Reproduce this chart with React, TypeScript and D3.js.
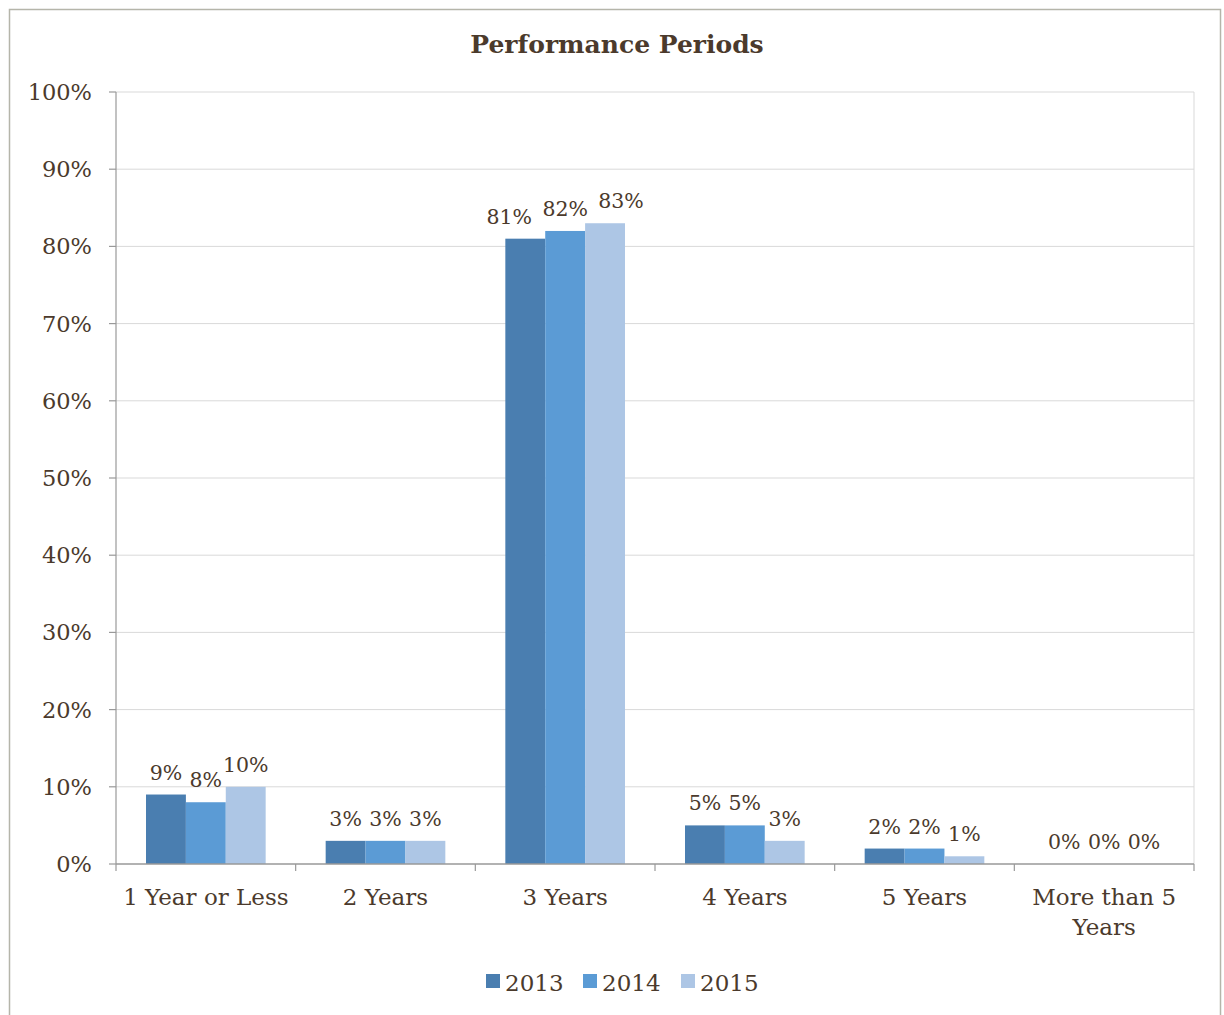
import React from "react";
import * as d3 from "d3";

const categories = ["1 Year or Less", "2 Years", "3 Years", "4 Years", "5 Years", "More than 5 Years"];
const categoryLines = [["1 Year or Less"], ["2 Years"], ["3 Years"], ["4 Years"], ["5 Years"], ["More than 5", "Years"]];
const seriesNames = ["2013", "2014", "2015"];
const values2013 = [9, 3, 81, 5, 2, 0];
const values2014 = [8, 3, 82, 5, 2, 0];
const values2015 = [10, 3, 83, 3, 1, 0];
const seriesColors = ["#4a7eb0", "#5b9bd5", "#adc6e5"];
const yTicks = [0, 10, 20, 30, 40, 50, 60, 70, 80, 90, 100];

const W = 1224;
const H = 1015;
const FONT = "'DejaVu Serif', Georgia, serif";
const TEXT = "#4b3a2c";
const LABEL_SIZE = 20.5;

export default function App() {
  const left = 116, right = 1194, top = 92, bottom = 864;
  const x = d3.scaleBand<string>().domain(categories).range([left, right]).padding(0);
  const inner = d3.scaleBand<string>().domain(seriesNames).range([30, x.bandwidth() - 30]).padding(0);
  const y = d3.scaleLinear().domain([0, 100]).range([bottom, top]);
  const series = [values2013, values2014, values2015];
  const bw = inner.bandwidth();

  // simple label collision avoidance: if all labels in a group are nearly as wide as the bars
  // and sit at similar heights, push the outer labels outward
  const labelShift = (ci: number, si: number) => {
    const vals = series.map((s) => s[ci]);
    const widths = vals.map((v) => `${v}%`.length * LABEL_SIZE * 0.66);
    const allWide = widths.every((w) => w > bw - 1);
    const close = Math.abs(y(vals[0]) - y(vals[2])) < 24 && Math.abs(y(vals[0]) - y(vals[1])) < 24;
    if (!allWide || !close) return 0;
    return si === 0 ? -16 : si === 2 ? 16 : 0;
  };

  return (
    <div style={{ position: "absolute", left: 0, top: 0 }}>
      <svg width={W} height={H} style={{ display: "block", fontFamily: FONT }}>
        <rect x={0} y={0} width={W} height={H} fill="#fff" />
        <rect x={9.5} y={9.5} width={1211} height={1100} fill="none" stroke="#b5b5aa" strokeWidth={1.5} />
        <text x={617} y={53} textAnchor="middle" fontSize={25} fontWeight="bold" fill={TEXT}>
          Performance Periods
        </text>
        {yTicks.map((t) => (
          <g key={t}>
            {t > 0 && <line x1={left} x2={right} y1={y(t)} y2={y(t)} stroke="#d9d9d9" strokeWidth={1} />}
            <line x1={left - 7} x2={left} y1={y(t)} y2={y(t)} stroke="#999" strokeWidth={1.2} />
            <text x={92} y={y(t) + 8} textAnchor="end" fontSize={22.5} fill={TEXT}>
              {t}%
            </text>
          </g>
        ))}
        <line x1={right} x2={right} y1={top} y2={bottom} stroke="#d9d9d9" strokeWidth={1} />
        {series.map((vals, si) =>
          categories.map((c, ci) => {
            const bx = (x(c) as number) + (inner(seriesNames[si]) as number);
            return (
              <g key={`${si}-${ci}`}>
                {vals[ci] > 0 && (
                  <rect x={bx} y={y(vals[ci])} width={bw} height={bottom - y(vals[ci])} fill={seriesColors[si]} />
                )}
                <text
                  x={bx + bw / 2 + labelShift(ci, si)}
                  y={y(vals[ci]) - 15}
                  textAnchor="middle"
                  fontSize={LABEL_SIZE}
                  fill={TEXT}
                >
                  {vals[ci]}%
                </text>
              </g>
            );
          })
        )}
        <line x1={left} x2={left} y1={top} y2={bottom + 7} stroke="#999" strokeWidth={1.2} />
        <line x1={left} x2={right} y1={bottom} y2={bottom} stroke="#999" strokeWidth={1.5} />
        {categories.map((c) => (
          <line key={c} x1={(x(c) as number) + x.bandwidth()} x2={(x(c) as number) + x.bandwidth()} y1={bottom} y2={bottom + 7} stroke="#999" strokeWidth={1.2} />
        ))}
        {categories.map((c, ci) => (
          <text key={c} x={(x(c) as number) + x.bandwidth() / 2} y={905} textAnchor="middle" fontSize={23} fill={TEXT}>
            {categoryLines[ci].map((ln, li) => (
              <tspan key={li} x={(x(c) as number) + x.bandwidth() / 2} dy={li === 0 ? 0 : 30}>
                {ln}
              </tspan>
            ))}
          </text>
        ))}
        {seriesNames.map((s, i) => {
          const lx = [486, 583, 681][i];
          return (
            <g key={s}>
              <rect x={lx} y={974} width={14} height={14} fill={seriesColors[i]} />
              <text x={lx + 19} y={991} fontSize={23} fill={TEXT}>
                {s}
              </text>
            </g>
          );
        })}
      </svg>
    </div>
  );
}
